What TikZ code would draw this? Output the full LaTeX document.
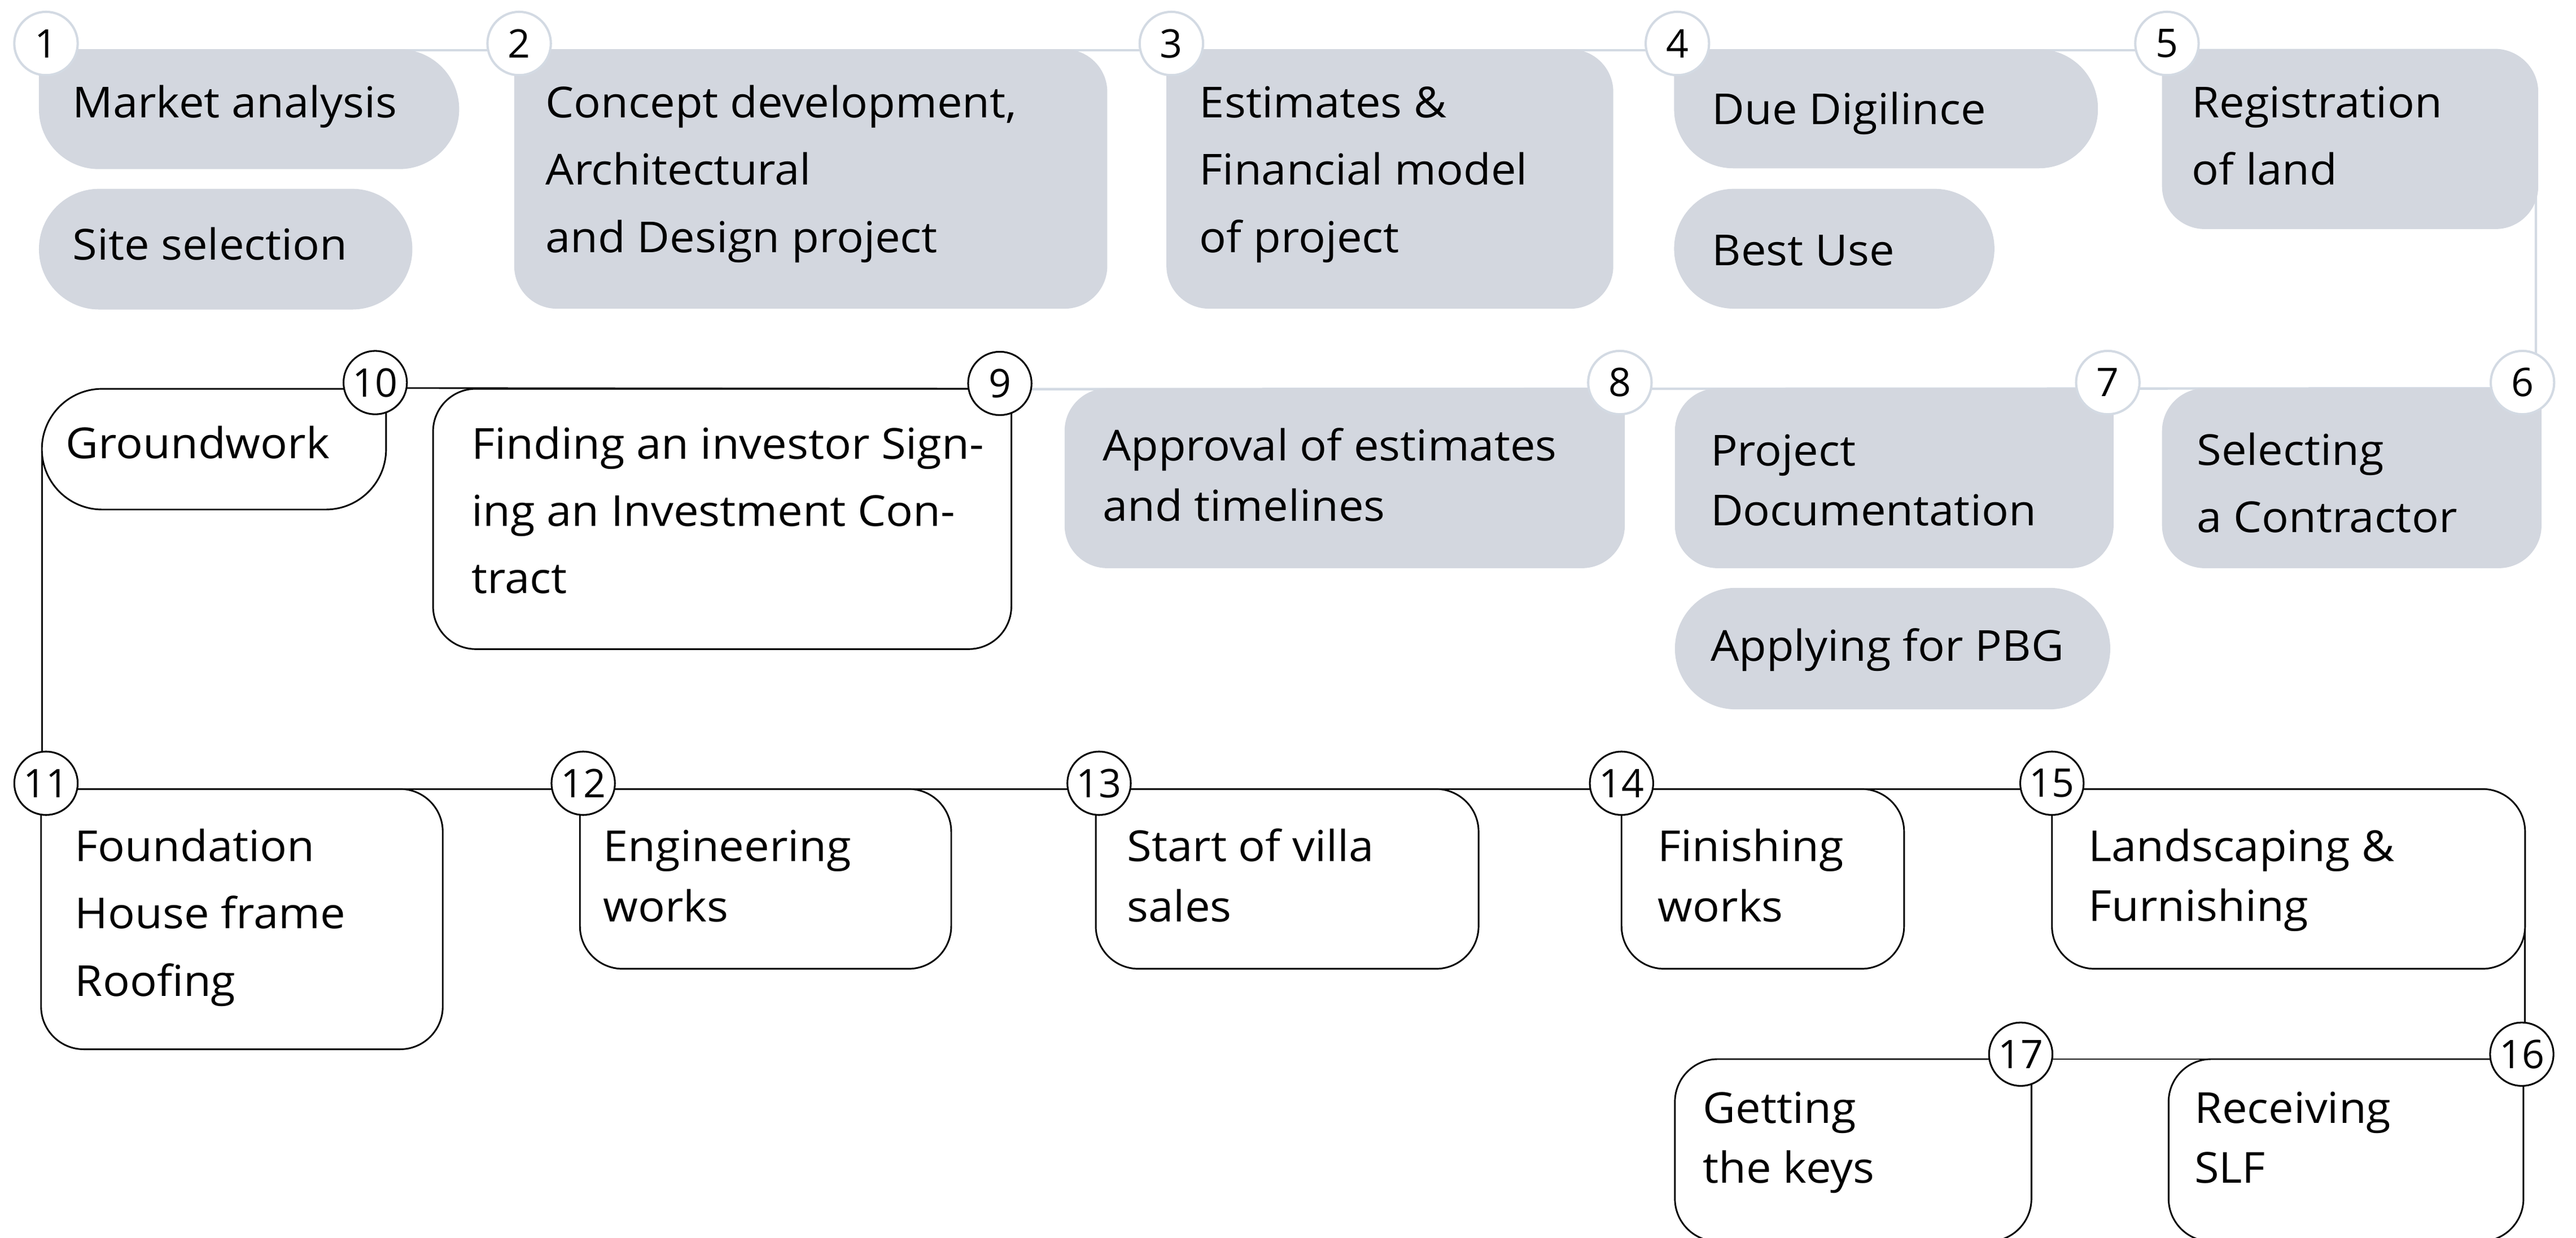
\documentclass[tikz,border=0pt]{standalone}
\usepackage{fontspec}
\setmainfont{Open Sans}[FakeStretch=1.05]
\newfontfamily\numfont{Open Sans}
\definecolor{boxgray}{HTML}{D3D7DF}
\definecolor{lite}{HTML}{D3DAE3}
\newcommand\fs{\rule{0pt}{21pt}}
\newcommand\boxTL[3]{\path[#2, rounded corners=#3] (#1.north west) -- (#1.north east) -- (#1.south east) -- (#1.south west) -- (#1.north west);}
\newcommand\boxTR[3]{\path[#2, rounded corners=#3] (#1.north east) -- (#1.south east) -- (#1.south west) -- (#1.north west) -- (#1.north east);}
\newcommand\boxAll[3]{\path[#2, rounded corners=#3] (#1.north west) rectangle (#1.south east);}
\begin{document}
\begin{tikzpicture}[x=1pt,y=-1pt,
  boxarea/.style={rectangle, inner sep=0pt, outer sep=0pt, anchor=north west},
  gfill/.style={fill=boxgray},
  wbox/.style={fill=white, draw=black, line width=1pt},
  num/.style={circle, minimum size=38.6pt, inner sep=0pt, fill=white, font=\numfont\fontsize{24}{24}\selectfont},
  numg/.style={num, draw=lite, line width=1.4pt},
  numb/.style={num, draw=black, line width=1.05pt},
  txt/.style={anchor=north west, inner sep=0pt, align=left, font=\fontsize{26}{41}\selectfont},
  tight/.style={font=\fontsize{26}{36.5}\selectfont},
  liteline/.style={draw=lite, line width=1.5pt},
  blkline/.style={draw=black, line width=1pt}]
\useasboundingbox (0,0) rectangle (1568,753.6);
\clip (0,0) rectangle (1568,753.6);

% ---------- box areas ----------
\node[boxarea, minimum width=255.8pt, minimum height=73pt]  (b1)  at (23.7,30) {};
\node[boxarea, minimum width=227.3pt, minimum height=73.5pt](b1s) at (23.7,115) {};
\node[boxarea, minimum width=361pt, minimum height=158pt]   (b2)  at (313,30) {};
\node[boxarea, minimum width=272pt, minimum height=158pt]   (b3)  at (710,30) {};
\node[boxarea, minimum width=258pt, minimum height=72.5pt]  (b4)  at (1019,30) {};
\node[boxarea, minimum width=195pt, minimum height=73pt]    (b4s) at (1019,115) {};
\node[boxarea, minimum width=229pt, minimum height=109.5pt] (b5)  at (1316,30) {};
\node[boxarea, minimum width=231pt, minimum height=109.5pt] (b6)  at (1316,236.5) {};
\node[boxarea, minimum width=267pt, minimum height=109.5pt] (b7)  at (1019.5,236.5) {};
\node[boxarea, minimum width=265pt, minimum height=74pt]    (b7s) at (1019.5,358) {};
\node[boxarea, minimum width=341pt, minimum height=109.5pt] (b8)  at (648,236.5) {};
\node[boxarea, minimum width=352pt, minimum height=158.5pt] (b9)  at (263.6,236.8) {};
\node[boxarea, minimum width=209.5pt, minimum height=73.5pt](b10) at (25.5,236.8) {};
\node[boxarea, minimum width=244.5pt, minimum height=158.5pt](b11) at (25,480.5) {};
\node[boxarea, minimum width=226pt, minimum height=109.5pt] (b12) at (353,480.5) {};
\node[boxarea, minimum width=233pt, minimum height=109.5pt] (b13) at (667,480.5) {};
\node[boxarea, minimum width=172pt, minimum height=109.5pt] (b14) at (987,480.5) {};
\node[boxarea, minimum width=288pt, minimum height=109.5pt] (b15) at (1249,480.5) {};
\node[boxarea, minimum width=216pt, minimum height=111pt]   (b16) at (1320,645) {};
\node[boxarea, minimum width=217pt, minimum height=111pt]   (b17) at (1019.5,645) {};

% ---------- circles (positions) ----------
\coordinate (p1) at (28,26.5);   \coordinate (p2) at (316,26.5);  \coordinate (p3) at (713,26.5);
\coordinate (p4) at (1021,26.5); \coordinate (p5) at (1319,26.5);
\coordinate (p6) at (1535.4,233); \coordinate (p7) at (1283,233); \coordinate (p8) at (986,233);
\coordinate (p9) at (608.6,233.5); \coordinate (p10) at (228.4,233);
\coordinate (p11) at (28,477); \coordinate (p12) at (355,477); \coordinate (p13) at (669,477);
\coordinate (p14) at (987,477); \coordinate (p15) at (1249,477);
\coordinate (p16) at (1535,642); \coordinate (p17) at (1230,642);

% ---------- connectors ----------
\draw[liteline] ([yshift=-4pt]p1) -- ([yshift=-4pt]p5);
\draw[liteline, rounded corners=25pt] ([yshift=-4pt]p5) -| ([xshift=8.2pt]p6);
\draw[liteline] ([yshift=-3.5pt]p6) -- ([yshift=-3.5pt]p9);
\draw[blkline] ([yshift=-3.3pt]p9) -- ([yshift=-3.3pt]p10);
\draw[blkline] (b10.west) -- (b10.west |- p11);
\draw[blkline] ([yshift=-3.5pt]p11) -- ([yshift=-3.5pt]p15);
\draw[blkline] (b15.east) -- (b15.east |- p16);
\draw[blkline] ([yshift=-3pt]p16) -- ([yshift=-3pt]p17);

% ---------- boxes ----------
\boxTL{b1}{gfill}{36.5pt}
\boxAll{b1s}{gfill}{36.7pt}
\boxTL{b2}{gfill}{26pt}
\boxTL{b3}{gfill}{26pt}
\boxTL{b4}{gfill}{36pt}
\boxAll{b4s}{gfill}{36.5pt}
\boxTL{b5}{gfill}{26pt}
\boxTR{b6}{gfill}{26pt}
\boxTR{b7}{gfill}{26pt}
\boxAll{b7s}{gfill}{37pt}
\boxTR{b8}{gfill}{26pt}
\boxTR{b9}{wbox}{26pt}
\boxTR{b10}{wbox}{36.7pt}
\boxTL{b11}{wbox}{26pt}
\boxTL{b12}{wbox}{26pt}
\boxTL{b13}{wbox}{26pt}
\boxTL{b14}{wbox}{26pt}
\boxTL{b15}{wbox}{26pt}
\boxTR{b16}{wbox}{26pt}
\boxTR{b17}{wbox}{26pt}

% ---------- number circles ----------
\node[numg] (c1) at (p1) {1};
\node[numg] (c2) at (p2) {2};
\node[numg] (c3) at (p3) {3};
\node[numg] (c4) at (p4) {4};
\node[numg] (c5) at (p5) {5};
\node[numg] (c6) at (p6) {6};
\node[numg] (c7) at (p7) {7};
\node[numg] (c8) at (p8) {8};
\node[numb] (c9) at (p9) {9};
\node[numb] (c10) at (p10) {10};
\node[numb] (c11) at (p11) {11};
\node[numb] (c12) at (p12) {12};
\node[numb] (c13) at (p13) {13};
\node[numb] (c14) at (p14) {14};
\node[numb] (c15) at (p15) {15};
\node[numb] (c16) at (p16) {16};
\node[numb] (c17) at (p17) {17};

% ---------- texts (top = baseline - 21) ----------
\node[txt] (t1)  at (44,50.5)   {\fs Market analysis};
\node[txt] (t1s) at (44,137)    {\fs Site selection};
\node[txt] (t2)  at (332,50.5)  {\fs Concept development,\\Architectural\\and Design project};
\node[txt] (t3)  at (730,50.5)  {\fs Estimates \&\\Financial model\\of project};
\node[txt] (t4)  at (1042,54.5) {\fs Due Digilince};
\node[txt] (t4s) at (1042,140.5){\fs Best Use};
\node[txt] (t5)  at (1334,50.5) {\fs Registration\\of land};
\node[txt] (t6)  at (1337,262)  {\fs Selecting\\a Contractor};
\node[txt,tight] (t7)  at (1041,262.5) {\fs Project\\Documentation};
\node[txt] (t7s) at (1041,381.5) {\fs Applying for PBG};
\node[txt,tight] (t8)  at (671,259.5)  {\fs Approval of estimates\\and timelines};
\node[txt] (t9)  at (287,258.3) {\fs Finding an investor Sign-\\ing an Investment Con-\\tract};
\node[txt] (t10) at (40,258)    {\fs Groundwork};
\node[txt] (t11) at (45.5,503.4){\fs Foundation\\House frame\\Roofing};
\node[txt,tight] (t12) at (367,503.5)  {\fs Engineering\\works};
\node[txt,tight] (t13) at (686,503.5)  {\fs Start of villa\\sales};
\node[txt,tight] (t14) at (1009,503.5) {\fs Finishing\\works};
\node[txt,tight] (t15) at (1271,503.4) {\fs Landscaping \&\\Furnishing};
\node[txt,tight] (t16) at (1335.5,662.8) {\fs Receiving\\SLF};
\node[txt,tight] (t17) at (1036.5,662.8) {\fs Getting\\the keys};
\end{tikzpicture}
\end{document}
